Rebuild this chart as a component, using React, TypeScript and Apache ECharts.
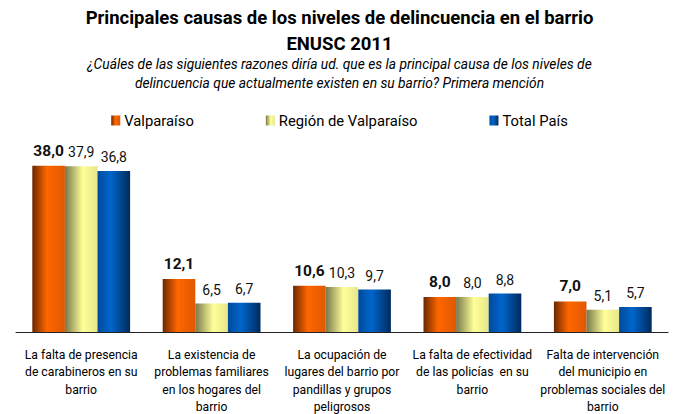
import React, { useEffect, useRef } from "react";
import * as echarts from "echarts";

const categories = [
  "La falta de presencia\nde carabineros en su\nbarrio",
  "La existencia de\nproblemas familiares\nen los hogares del\nbarrio",
  "La ocupación de\nlugares del barrio por\npandillas y grupos\npeligrosos",
  "La falta de efectividad\nde las policías  en su\nbarrio",
  "Falta de intervención\ndel municipio en\nproblemas sociales del\nbarrio",
];
const valparaiso = [38.0, 12.1, 10.6, 8.0, 7.0];
const region = [37.9, 6.5, 10.3, 8.0, 5.1];
const totalPais = [36.8, 6.7, 9.7, 8.8, 5.7];
const seriesNames = ["Valparaíso", "Región de Valparaíso", "Total País"];

const FONT = "Roboto, 'Noto Sans', sans-serif";

const grad = (stops: [number, string][]) =>
  new echarts.graphic.LinearGradient(
    0, 0, 1, 0,
    stops.map(([offset, color]) => ({ offset, color }))
  );

const fmt = (p: any) => Number(p.value).toFixed(1).replace(".", ",");

export default function App() {
  const ref = useRef<HTMLDivElement>(null);
  useEffect(() => {
    if (!ref.current) return;
    const chart = echarts.init(ref.current, undefined, { renderer: "svg" });
    const colors = [
      grad([[0, "#6a2800"], [0.45, "#ff6600"], [1, "#e05800"]]),
      grad([[0, "#78784a"], [0.55, "#ffff99"], [1, "#e6e68a"]]),
      grad([[0, "#004a9a"], [0.4, "#0066cc"], [1, "#002a5c"]]),
    ];
    const data = [valparaiso, region, totalPais];
    chart.setOption({
      animation: false,
      backgroundColor: "#ffffff",
      title: [
        {
          text: "Principales causas de los niveles de delincuencia en el barrio\nENUSC 2011",
          left: "center",
          top: 0,
          textStyle: {
            fontFamily: FONT,
            fontWeight: "bold",
            fontSize: 18.5,
            lineHeight: 26,
            color: "#000",
            align: "center",
          },
        },
        {
          text: "¿Cuáles de las siguientes razones diría ud. que es la principal causa de los niveles de\ndelincuencia que actualmente existen en su barrio? Primera mención",
          left: "center",
          top: 49,
          textStyle: {
            fontFamily: FONT,
            fontStyle: "italic",
            fontWeight: "normal",
            fontSize: 13.8,
            lineHeight: 19,
            color: "#000",
            align: "center",
          },
        },
      ],
      legend: {
        top: 108,
        left: "center",
        itemWidth: 9,
        itemHeight: 10,
        itemGap: 72,
        icon: "rect",
        textStyle: { fontFamily: FONT, fontSize: 14.8, color: "#000", padding: [0, 0, 0, -1] },
        data: seriesNames,
      },
      grid: {
        left: 16,
        right: 11,
        top: 157,
        bottom: 82,
        containLabel: false,
        outerBoundsMode: "none",
      },
      xAxis: {
        type: "category",
        data: categories,
        axisLine: { lineStyle: { color: "#222", width: 1 } },
        axisTick: { length: 4, lineStyle: { color: "#222" } },
        axisLabel: {
          interval: 0,
          fontFamily: FONT,
          fontSize: 12.2,
          lineHeight: 17.5,
          color: "#000",
          margin: 14,
        },
      },
      yAxis: { type: "value", min: 0, max: 40, show: false },
      series: data.map((d, i) => ({
        name: seriesNames[i],
        type: "bar",
        data: d,
        barGap: "0%",
        barCategoryGap: "25%",
        itemStyle: { color: colors[i] },
        label: {
          show: true,
          position: "top",
          distance: 7,
          formatter: fmt,
          fontFamily: FONT,
          fontSize: i === 0 ? 15.5 : 14,
          fontWeight: i === 0 ? "bold" : "normal",
          color: "#111",
        },
      })),
    });
    return () => chart.dispose();
  }, []);
  return (
    <div
      ref={ref}
      style={{ position: "fixed", left: 0, top: 0, width: 679, height: 414 }}
    />
  );
}
